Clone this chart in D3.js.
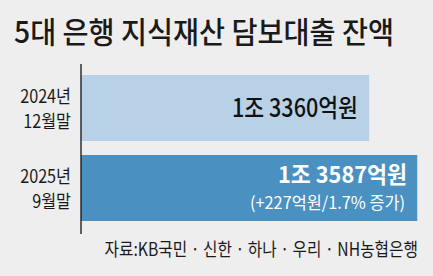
<!DOCTYPE html>
<html><head><meta charset="utf-8">
<script src="https://cdn.jsdelivr.net/npm/d3@7"></script>
<style>
html,body{margin:0;padding:0;background:#eeeeee;}
svg{display:block;}
text{font-family:"Noto Sans CJK KR","Noto Sans",sans-serif;}
</style></head>
<body>
<script>
const title = "5대 은행 지식재산 담보대출 잔액";
const categories = [["2024년","12월말"],["2025년","9월말"]];
const values = [13360, 13587];
const valueLabels = ["1조 3360억원","1조 3587억원"];
const changeLabel = "(+227억원/1.7% 증가)";
const source = "자료:KB국민 · 신한 · 하나 · 우리 · NH농협은행";
const barColors = ["#b9d1e7","#4a91c2"];

const W = 433, H = 276;
const svg = d3.select("body").append("svg").attr("width",W).attr("height",H);
svg.append("rect").attr("width",W).attr("height",H).attr("fill","#eeeeee");

const x = d3.scaleLinear().domain([12000, 13600]).range([81, 420]);
const y = d3.scaleBand().domain(d3.range(values.length)).range([75, 221]).paddingInner(0.175).paddingOuter(0);

svg.append("text").attr("x",14).attr("y",43)
  .attr("font-size",30).attr("font-weight",500).attr("fill","#1a1a1a")
  .attr("textLength",380).attr("lengthAdjust","spacingAndGlyphs")
  .text(title);

svg.selectAll("rect.bar").data(values).join("rect").attr("class","bar")
  .attr("x", x(12000)).attr("y",(d,i)=>y(i))
  .attr("width", d=>x(d)-x(12000)).attr("height", y.bandwidth())
  .attr("fill",(d,i)=>barColors[i]);

// axis line
const axis = d3.axisLeft(y).tickSize(0).tickFormat("");
const ag = svg.append("g").attr("transform",`translate(${x(12000)},0)`).call(axis);
ag.select(".domain").attr("stroke","#111").attr("stroke-width",1.3).attr("d","M0,64V234");

// category labels (two lines each)
categories.forEach((c,i)=>{
  const cy = y(i) + y.bandwidth()/2;
  const t = svg.append("text")
    .attr("transform",`translate(71,${cy - 5}) scale(0.9,1)`)
    .attr("text-anchor","end").attr("font-size",18).attr("fill","#1a1a1a");
  c.forEach((s,j)=>{
    t.append("tspan").attr("x",0).attr("dy", j===0 ? 0 : 25).text(s);
  });
});

// value labels
svg.append("text").attr("x",358).attr("y",y(0)+y.bandwidth()/2+9)
  .attr("text-anchor","end").attr("font-size",25).attr("font-weight",500).attr("fill","#111")
  .attr("textLength",126).attr("lengthAdjust","spacingAndGlyphs")
  .text(valueLabels[0]);
svg.append("text").attr("x",407).attr("y",y(1)+y.bandwidth()/2-5)
  .attr("text-anchor","end").attr("font-size",23).attr("font-weight","bold").attr("fill","#ffffff")
  .attr("textLength",129).attr("lengthAdjust","spacingAndGlyphs")
  .text(valueLabels[1]);
svg.append("text").attr("x",405).attr("y",y(1)+y.bandwidth()/2+21)
  .attr("text-anchor","end").attr("font-size",17).attr("fill","#ffffff")
  .attr("textLength",155).attr("lengthAdjust","spacingAndGlyphs")
  .text(changeLabel);

// source
svg.append("text")
  .attr("transform","translate(418,256) scale(0.85,1)")
  .attr("text-anchor","end").attr("font-size",18.5).attr("fill","#1a1a1a")
  .text(source);
</script>
</body></html>
